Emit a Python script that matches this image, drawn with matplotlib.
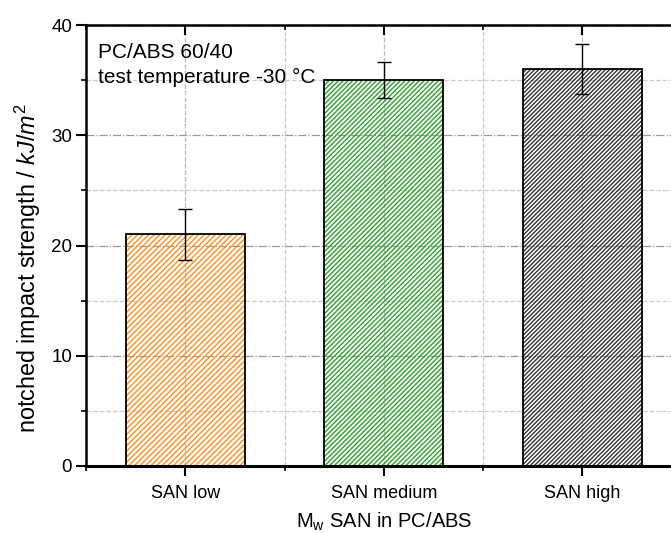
import numpy as np
import matplotlib
matplotlib.use('Agg')
import matplotlib.pyplot as plt
from matplotlib.ticker import MultipleLocator

plt.rcParams['font.family'] = ['Liberation Sans', 'DejaVu Sans']
plt.rcParams['mathtext.fontset'] = 'custom'
plt.rcParams['mathtext.rm'] = 'Liberation Sans'
plt.rcParams['mathtext.it'] = 'Liberation Sans:italic'
plt.rcParams['hatch.linewidth'] = 1.0

#data
categories = ['SAN low', 'SAN medium', 'SAN high']
strength = [21.0, 35.0, 36.0]
err_up = [2.3, 1.6, 2.3]
err_lo = [2.3, 1.6, 2.3]
hatch_colors = ['#ff8c1a', '#2ca02c', '#333333']
hatches = ['//////', '///////', '////////']

x = np.arange(1, len(categories) + 1)

fig = plt.figure(figsize=(6.71, 5.33), dpi=100)
# axes runs past right edge of figure like the original crop
ax = fig.add_axes([86/671, (533-466)/533, 595.5/671, 441/533])

#grid
ax.set_axisbelow(True)
ax.yaxis.set_major_locator(MultipleLocator(10))
ax.yaxis.set_minor_locator(MultipleLocator(5))
ax.xaxis.set_major_locator(MultipleLocator(1))
ax.xaxis.set_minor_locator(MultipleLocator(0.5))
ax.grid(axis='y', which='major', color='#999999', linestyle='-.', linewidth=0.9)
ax.grid(axis='y', which='minor', color='#cccccc', linestyle='--', linewidth=0.9)
ax.grid(axis='x', which='major', color='#bbbbbb', linestyle='--', linewidth=0.9)
ax.grid(axis='x', which='minor', color='#cccccc', linestyle='--', linewidth=0.9)

#bars: hatch layer then black outline
for i in range(len(x)):
    ax.bar(x[i], strength[i], width=0.6, facecolor='none',
           edgecolor=hatch_colors[i], hatch=hatches[i], linewidth=0, zorder=2)
    ax.bar(x[i], strength[i], width=0.6, facecolor='none',
           edgecolor='black', linewidth=1.3, zorder=3)

ax.errorbar(x, strength, yerr=[err_lo, err_up], fmt='none', ecolor='black',
            elinewidth=1.0, capsize=5, capthick=1.0, zorder=4)

ax.set_xlim(0.5, 3.5)
ax.set_ylim(0, 40)
ax.set_xticks(x)
ax.set_xticklabels(categories)

ax.spines['right'].set_visible(False)
ax.spines['left'].set_linewidth(1.8)
ax.spines['bottom'].set_linewidth(2.2)
ax.spines['top'].set_linewidth(1.8)

ax.tick_params(axis='y', which='major', direction='out', length=7, width=1.5,
               labelsize=13.5, pad=3)
ax.tick_params(axis='y', which='minor', direction='out', length=3.8, width=1.2)
ax.tick_params(axis='x', which='major', direction='out', length=7, width=1.5,
               labelsize=13, pad=7, top=True)
ax.tick_params(axis='x', which='minor', direction='out', length=3.8, width=1.2, top=True)
# top ticks point inward
for t in ax.xaxis.get_major_ticks() + ax.xaxis.get_minor_ticks():
    t.tick2line.set_marker(3)

ax.set_ylabel('notched impact strength / $\\mathit{kJ/m}^2$', fontsize=16.8)
ax.yaxis.set_label_coords(-0.073, 0.448)
ax.set_xlabel('M$_\\mathrm{w}$ SAN in PC/ABS', fontsize=14.5, labelpad=6)

ax.text(0.562, 37.55, 'PC/ABS 60/40', fontsize=15, va='center', ha='left')
ax.text(0.562, 35.2, 'test temperature -30 \u00b0C', fontsize=15, va='center', ha='left')

plt.savefig('out.png', dpi=100)
